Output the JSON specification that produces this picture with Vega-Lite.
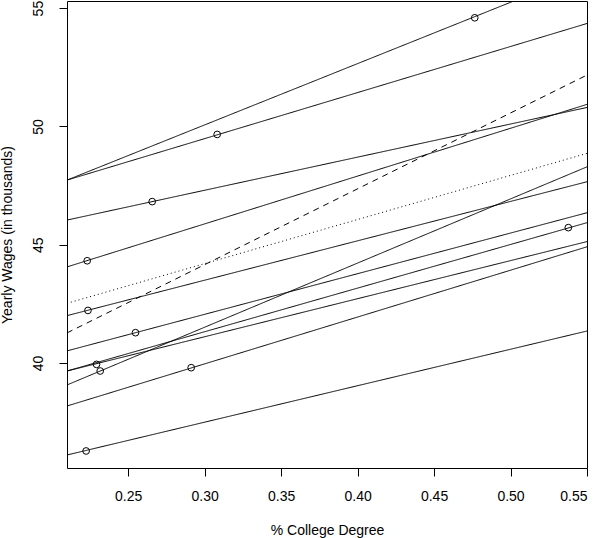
{
  "$schema": "https://vega.github.io/schema/vega-lite/v6.json",
  "width": 520,
  "height": 467,
  "autosize": {"type": "none"},
  "padding": {"left": 67, "top": 1, "right": 13, "bottom": 70},
  "config": {
    "view": {"stroke": "black", "strokeWidth": 1},
    "font": "Liberation Sans",
    "axis": {
      "grid": false,
      "domain": false,
      "tickColor": "black",
      "tickSize": 8,
      "labelColor": "black",
      "labelFontSize": 14,
      "titleFontSize": 14,
      "titleFontWeight": "normal",
      "titleColor": "black"
    }
  },
  "datasets": {
    "lines": [
      {"id": "L1", "style": "solid", "x": 0.21, "y": 47.73},
      {"id": "L1", "style": "solid", "x": 0.55, "y": 56.54},
      {"id": "L2", "style": "solid", "x": 0.21, "y": 47.73},
      {"id": "L2", "style": "solid", "x": 0.55, "y": 54.35},
      {"id": "L3", "style": "solid", "x": 0.21, "y": 46.04},
      {"id": "L3", "style": "solid", "x": 0.55, "y": 50.80},
      {"id": "L4", "style": "solid", "x": 0.21, "y": 44.06},
      {"id": "L4", "style": "solid", "x": 0.55, "y": 50.93},
      {"id": "L5", "style": "solid", "x": 0.21, "y": 42.00},
      {"id": "L5", "style": "solid", "x": 0.55, "y": 47.66},
      {"id": "L6", "style": "solid", "x": 0.21, "y": 40.51},
      {"id": "L6", "style": "solid", "x": 0.55, "y": 46.35},
      {"id": "L7", "style": "solid", "x": 0.21, "y": 39.07},
      {"id": "L7", "style": "solid", "x": 0.55, "y": 48.29},
      {"id": "L8", "style": "solid", "x": 0.21, "y": 39.66},
      {"id": "L8", "style": "solid", "x": 0.55, "y": 45.93},
      {"id": "L9", "style": "solid", "x": 0.21, "y": 39.66},
      {"id": "L9", "style": "solid", "x": 0.55, "y": 45.13},
      {"id": "L10", "style": "solid", "x": 0.21, "y": 38.18},
      {"id": "L10", "style": "solid", "x": 0.55, "y": 44.91},
      {"id": "L11", "style": "solid", "x": 0.21, "y": 36.11},
      {"id": "L11", "style": "solid", "x": 0.55, "y": 41.35},
      {"id": "dash", "style": "dashed", "x": 0.21, "y": 41.27},
      {"id": "dash", "style": "dashed", "x": 0.55, "y": 52.17},
      {"id": "dot", "style": "dotted", "x": 0.21, "y": 42.52},
      {"id": "dot", "style": "dotted", "x": 0.55, "y": 48.86}
    ],
    "points": [
      {"x": 0.4766, "y": 54.59},
      {"x": 0.3082, "y": 49.66},
      {"x": 0.2657, "y": 46.82},
      {"x": 0.2232, "y": 44.32},
      {"x": 0.2237, "y": 42.22},
      {"x": 0.2548, "y": 41.28},
      {"x": 0.2317, "y": 39.66},
      {"x": 0.5378, "y": 45.72},
      {"x": 0.2293, "y": 39.94},
      {"x": 0.2912, "y": 39.80},
      {"x": 0.2225, "y": 36.28}
    ]
  },
  "layer": [
    {
      "data": {"name": "lines"},
      "mark": {"type": "line", "clip": true, "color": "black", "strokeWidth": 1},
      "encoding": {
        "x": {
          "field": "x", "type": "quantitative",
          "scale": {"domain": [0.21, 0.55], "nice": false, "zero": false},
          "axis": {
            "values": [0.25, 0.3, 0.35, 0.4, 0.45, 0.5, 0.55],
            "format": ".2f",
            "labelPadding": 13,
            "title": "% College Degree",
            "titlePadding": 20
          }
        },
        "y": {
          "field": "y", "type": "quantitative",
          "scale": {"domain": [35.56, 55.3], "nice": false, "zero": false},
          "axis": {
            "values": [40, 45, 50, 55],
            "labelAngle": -90,
            "labelAlign": "center",
            "labelBaseline": "bottom",
            "labelPadding": 14,
            "title": "Yearly Wages (in thousands)",
            "titlePadding": 17
          }
        },
        "detail": {"field": "id"},
        "strokeDash": {
          "field": "style", "type": "nominal",
          "scale": {"domain": ["solid", "dashed", "dotted"], "range": [[1, 0], [6, 5], [1, 3]]},
          "legend": null
        }
      }
    },
    {
      "data": {"name": "points"},
      "mark": {"type": "point", "shape": "circle", "filled": false, "color": "black", "size": 45, "strokeWidth": 1, "opacity": 1},
      "encoding": {
        "x": {"field": "x", "type": "quantitative"},
        "y": {"field": "y", "type": "quantitative"}
      }
    }
  ]
}
